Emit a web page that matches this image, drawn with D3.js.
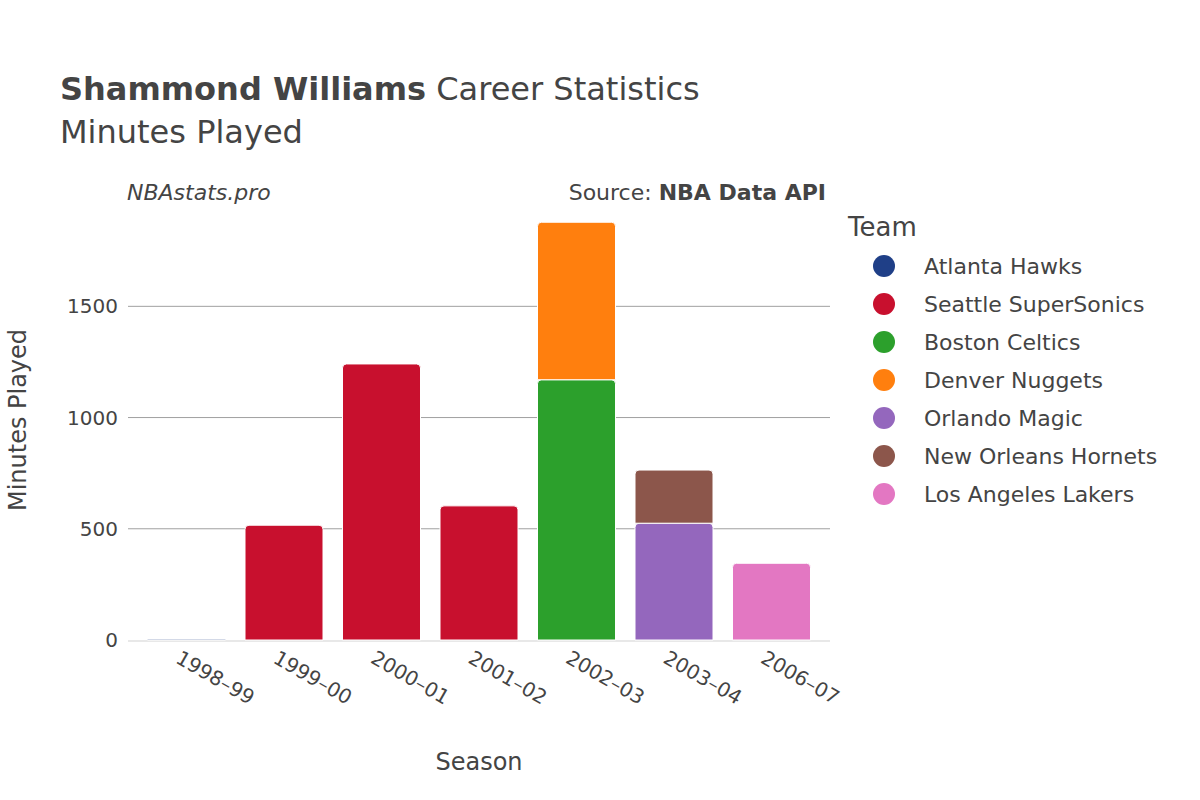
<!DOCTYPE html><html><head><meta charset="utf-8"><script src="https://cdn.jsdelivr.net/npm/d3@7"></script>
<style>body{margin:0;background:#fff}text{font-family:"DejaVu Sans",sans-serif}</style></head><body><svg id="c" width="1200" height="800"></svg>
<script>
const seasons=["1998–99","1999–00","2000–01","2001–02","2002–03","2003–04","2006–07"];
const teams=["Atlanta Hawks","Seattle SuperSonics","Boston Celtics","Denver Nuggets","Orlando Magic","New Orleans Hornets","Los Angeles Lakers"];
const colors=["#1f3f87","#c8102e","#2ca02c","#ff7f0e","#9467bd","#8c564b","#e377c2"];
const segSeason=["1998–99","1999–00","2000–01","2001–02","2002–03","2002–03","2003–04","2003–04","2006–07"];
const segTeam=["Atlanta Hawks","Seattle SuperSonics","Seattle SuperSonics","Seattle SuperSonics","Boston Celtics","Denver Nuggets","Orlando Magic","New Orleans Hornets","Los Angeles Lakers"];
const segValue=[4,516,1241,603,1170,708,525,239,345];
const yTicks=[0,500,1000,1500];

const svg=d3.select("#c");
const L=128,R=830,T=200,B=640;
const x=d3.scaleBand().domain(seasons).range([L,R]).padding(0.2);
const y=d3.scaleLinear().domain([0,1978]).range([B,T]);
const col=d3.scaleOrdinal().domain(teams).range(colors);
svg.append("g").selectAll("line").data(yTicks.slice(1)).join("line")
 .attr("x1",L).attr("x2",R).attr("y1",d=>y(d)).attr("y2",d=>y(d)).attr("stroke","#a0a0a0").attr("stroke-width",1);
svg.append("line").attr("x1",L).attr("x2",R).attr("y1",B+1).attr("y2",B+1).attr("stroke","#e8e8e8").attr("stroke-width",2);
const base={};
const segs=segValue.map((v,i)=>{const s=segSeason[i];const b=base[s]||0;base[s]=b+v;return{s,t:segTeam[i],y0:b,y1:b+v};});
svg.append("g").selectAll("path").data(segs).join("path")
 .attr("d",d=>{const x0=x(d.s),w=x.bandwidth(),yt=y(d.y1),yb=y(d.y0),h=yb-yt,r=Math.min(4,h/2);
   return `M${x0},${yb}V${yt+r}Q${x0},${yt} ${x0+r},${yt}H${x0+w-r}Q${x0+w},${yt} ${x0+w},${yt+r}V${yb}Z`;})
 .attr("fill",d=>col(d.t)).attr("stroke","#fff").attr("stroke-width",1);
svg.append("g").selectAll("text").data(yTicks).join("text")
 .attr("x",L-10).attr("y",d=>y(d)).attr("dy","0.35em").attr("text-anchor","end").attr("font-size",20).attr("fill","#444").text(d=>d);
svg.append("g").selectAll("text").data(seasons).join("text")
 .attr("transform",d=>`translate(${x(d)+x.bandwidth()/2-12},${662}) rotate(30)`).attr("font-size",20).attr("fill","#444").text(d=>d);
svg.append("text").attr("x",479).attr("y",770).attr("text-anchor","middle").attr("font-size",24).attr("fill","#444").text("Season");
svg.append("text").attr("transform","translate(26,420) rotate(-90)").attr("text-anchor","middle").attr("font-size",24).attr("fill","#444").text("Minutes Played");
const t=svg.append("text").attr("x",60).attr("y",100).attr("font-size",32).attr("fill","#444");
t.append("tspan").attr("font-weight","bold").text("Shammond Williams");t.append("tspan").text(" Career Statistics");
svg.append("text").attr("x",60).attr("y",143).attr("font-size",32).attr("fill","#444").text("Minutes Played");
svg.append("text").attr("x",127).attr("y",200).attr("font-size",22).attr("font-style","italic").attr("fill","#444").text("NBAstats.pro");
const s=svg.append("text").attr("x",826).attr("y",200).attr("text-anchor","end").attr("font-size",22).attr("fill","#444");
s.append("tspan").text("Source: ");s.append("tspan").attr("font-weight","bold").text("NBA Data API");
svg.append("text").attr("x",848).attr("y",236).attr("font-size",26).attr("fill","#444").text("Team");
const lg=svg.append("g").selectAll("g").data(teams).join("g").attr("transform",(d,i)=>`translate(884,${266+i*38})`);
lg.append("circle").attr("r",11).attr("fill",d=>col(d));
lg.append("text").attr("x",40).attr("dy","0.35em").attr("font-size",22).attr("fill","#444").text(d=>d);
</script></body></html>
